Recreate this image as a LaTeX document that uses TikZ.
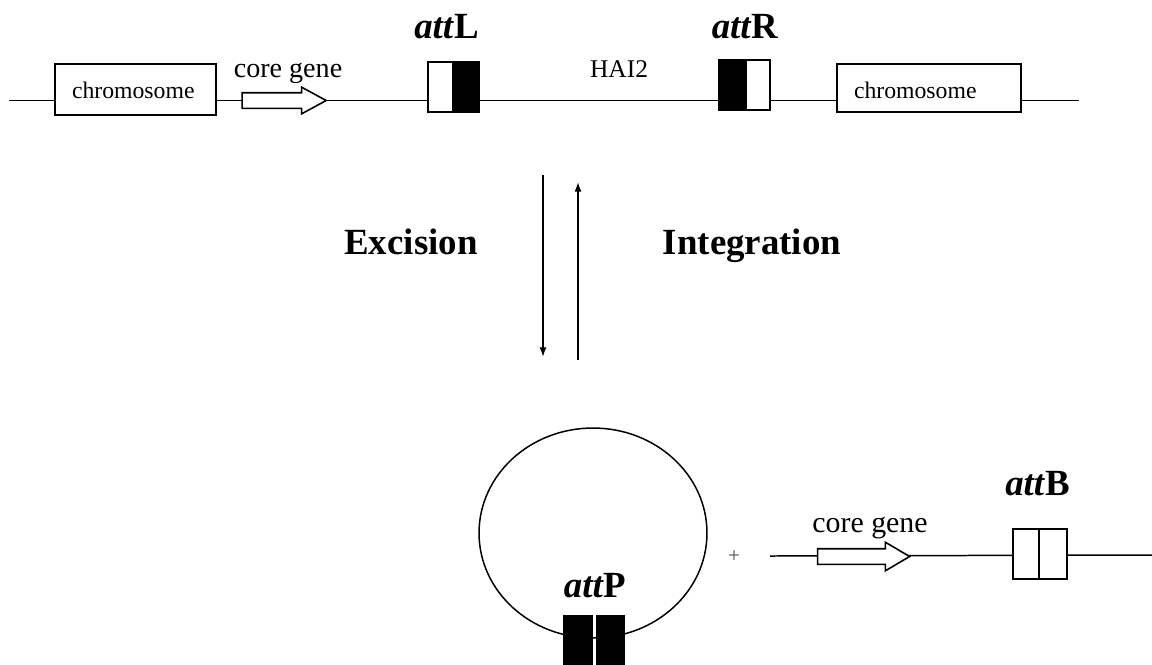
\documentclass[tikz,border=0pt]{standalone}
\usepackage{fontspec}
\setmainfont{Liberation Serif}
\usetikzlibrary{arrows.meta,shapes.arrows,shapes.geometric}
\tikzset{
	dna/.style={line width=0.85pt},
	chrom/.style={draw, fill=white, line width=0.9pt, inner xsep=0.34cm, inner ysep=0pt,
		text height=0.68cm, align=left, font=\fontsize{13.5}{15}\selectfont},
	attbox/.style={draw, line width=0.9pt, inner sep=0pt, minimum height=1cm},
	gene/.style={single arrow, draw, fill=white, line width=0.9pt, inner sep=0pt,
		text height=0.28cm, text depth=0cm, single arrow head extend=0.11cm, minimum width=0.5cm},
	genelbl/.style={anchor=base, font=\fontsize{16}{18}\selectfont},
	attlbl/.style={anchor=base, font=\fontsize{21}{24}\selectfont\bfseries},
	steplbl/.style={anchor=base, font=\fontsize{21}{24}\selectfont\bfseries},
	move/.style={line width=0.85pt, -{Latex[length=5.5pt,width=4pt]}}
}
\begin{document}
\begin{tikzpicture}[x=0.02cm, y=-0.02cm]
	\useasboundingbox (0,0) rectangle (1152,664);
	% integrated island
	\coordinate (topL) at (9,100.5);
	\coordinate (topR) at (1079,100.5);
	\draw[dna] (topL) -- (topR);
	\node[chrom, text width=2.54cm, text depth=0.34cm] (chrL) at (135.5,89.5) {chromosome};
	\node[chrom, text width=3cm, text depth=0.28cm] (chrR) at (929,88) {chromosome};
	\node[gene, minimum height=1.68cm, single arrow tip angle=57] (geneA) at (277,100.5) {};
	\node[genelbl] (geneAlbl) at (288,77) {core gene};
	\node[attbox, fill=white, minimum width=0.5cm] (atLw) at (440.5,87) {};
	\node[attbox, fill=black, minimum width=0.52cm] (atLb) at (466,87) {};
	\node[attbox, fill=black, minimum width=0.54cm] (atRb) at (732.5,85) {};
	\node[attbox, fill=white, minimum width=0.48cm] (atRw) at (758,85) {};
	\node[attlbl] (lblL) at (446.5,38) {\textit{att}L};
	\node[attlbl] (lblR) at (745,38) {\textit{att}R};
	\node[genelbl, font=\fontsize{14.5}{16}\selectfont] (hai) at (619,77) {HAI2};

	% excision and integration
	\coordinate (exTop) at (543,175);
	\coordinate (exBot) at (543,357);
	\coordinate (inBot) at (578,360);
	\coordinate (inTop) at (578,182);
	\draw[move] (exTop) -- (exBot);
	\draw[move] (inBot) -- (inTop);
	\node[steplbl] (exc) at (411,254) {Excision};
	\node[steplbl] (int) at (752,254) {Integration};

	% circular form
	\node[ellipse, draw, line width=0.85pt, inner sep=0pt, minimum width=4.56cm,
		minimum height=4.2cm] (plasmid) at (593,533) {};
	\node[attbox, fill=black, minimum width=0.56cm, minimum height=0.96cm] (atP1) at (578,640) {};
	\node[attbox, fill=black, minimum width=0.54cm, minimum height=0.96cm] (atP2) at (610.5,640) {};
	\node[attlbl] (lblP) at (595,597) {\textit{att}P};
	\node[text=black!70, font=\fontsize{12}{14}\selectfont] (plus) at (734,557) {+};

	% empty site
	\coordinate (botL) at (770,556);
	\coordinate (botR) at (1152,555);
	\draw[dna] (botL) -- (botR);
	\node[gene, minimum height=1.84cm, minimum width=0.54cm, single arrow head extend=0.13cm,
		single arrow tip angle=61] (geneB) at (857,556.5) {};
	\node[genelbl, font=\fontsize{17}{19}\selectfont] (geneBlbl) at (870,532) {core gene};
	\node[attbox, fill=white, minimum width=0.52cm] (atB1) at (1026,554) {};
	\node[attbox, fill=white, minimum width=0.56cm] (atB2) at (1053,554) {};
	\node[attlbl] (lblB) at (1037.5,495) {\textit{att}B};
\end{tikzpicture}
\end{document}
